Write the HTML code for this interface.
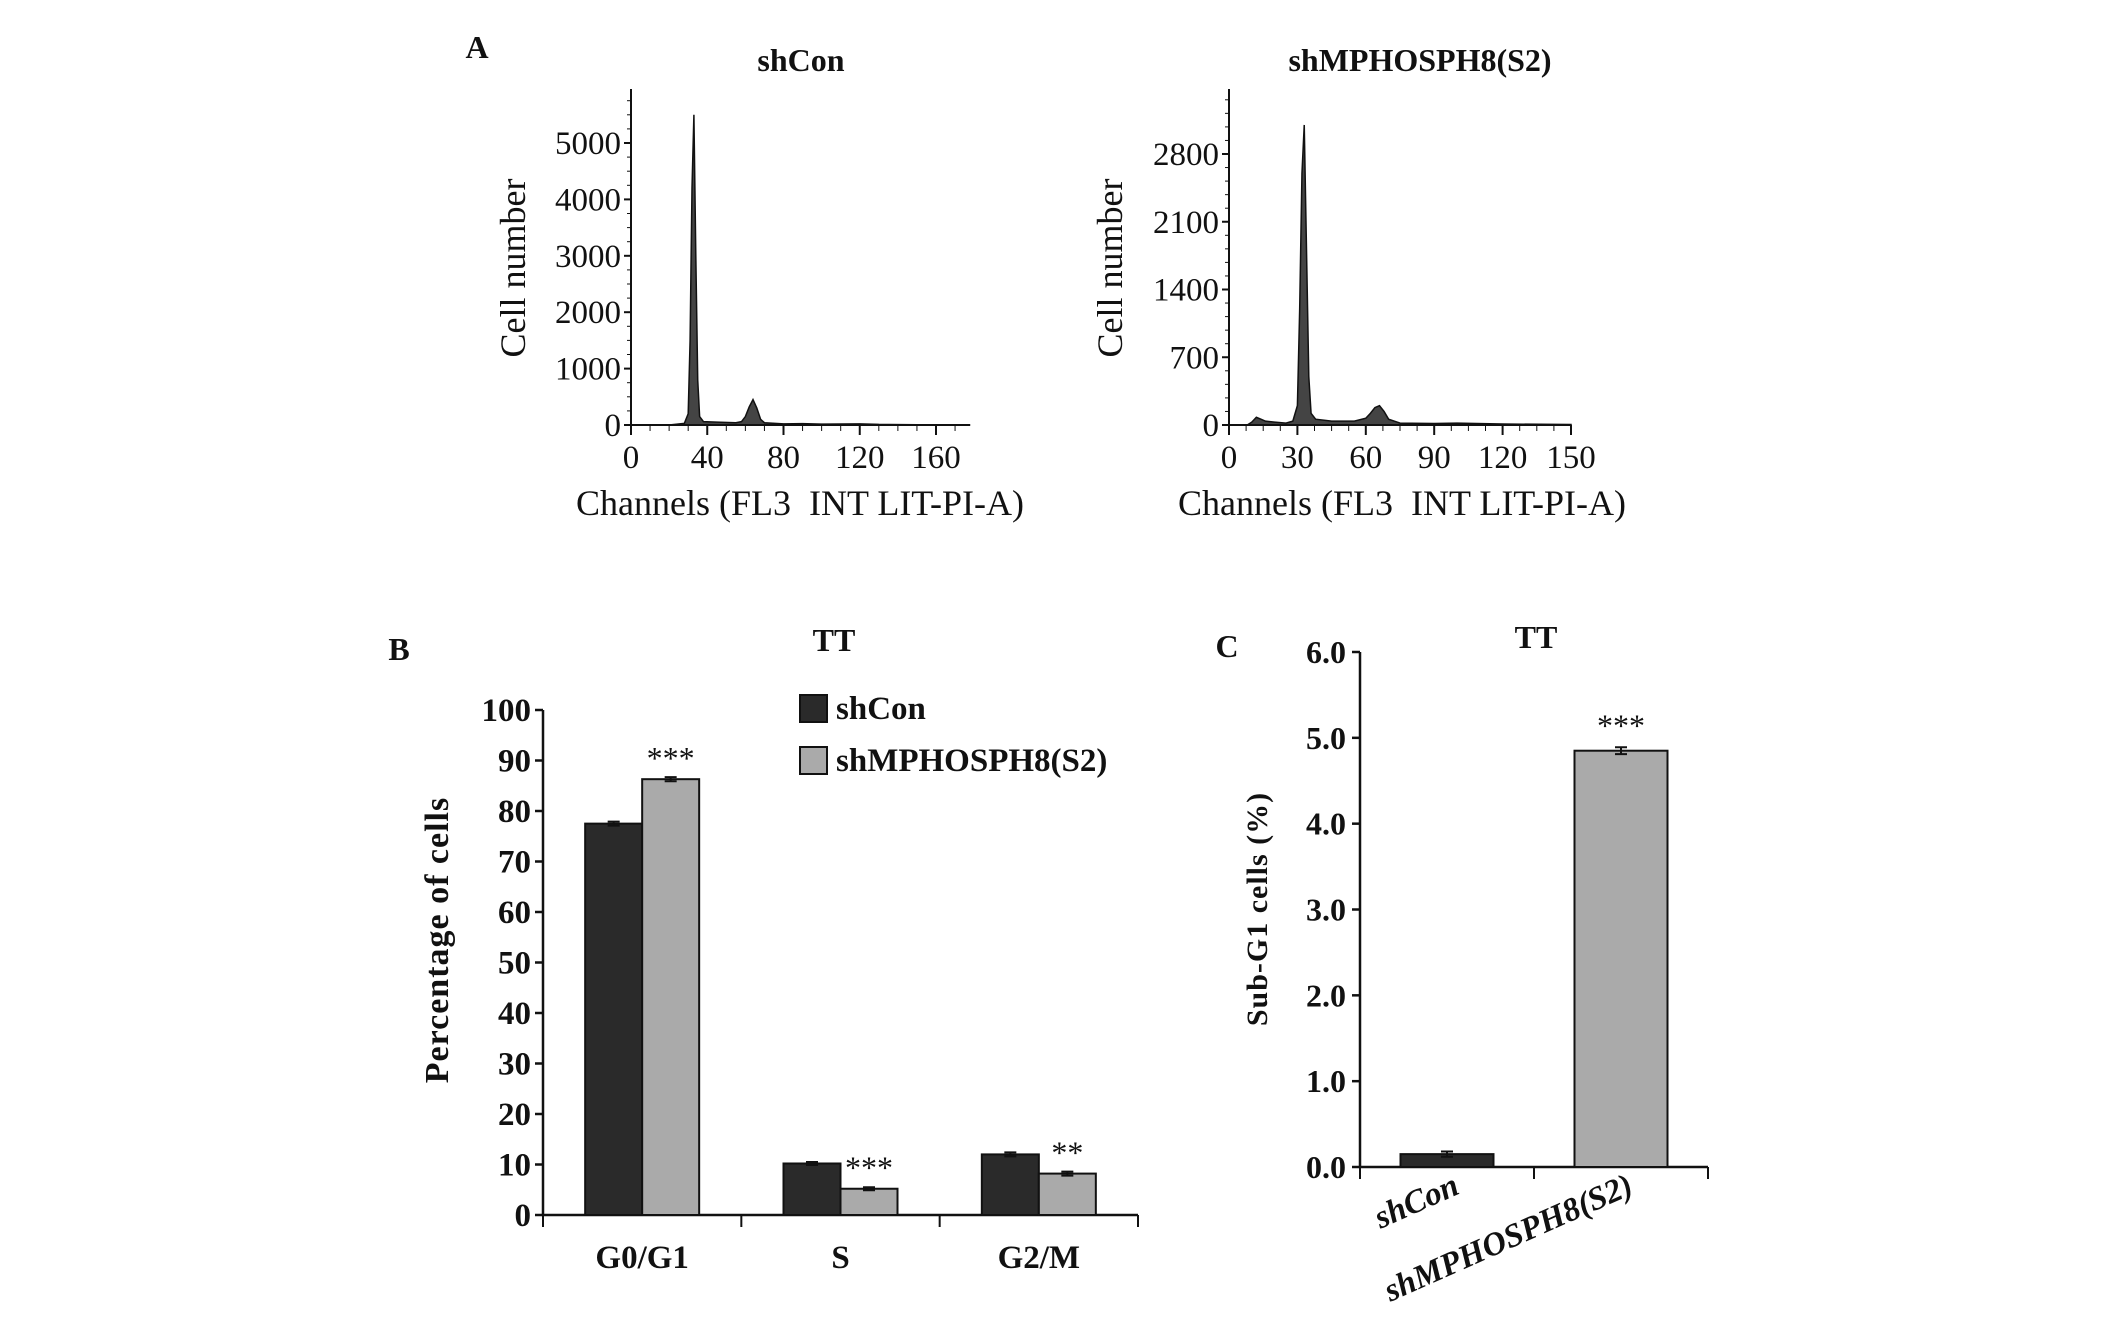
<!DOCTYPE html>
<html><head><meta charset="utf-8"><style>
body{margin:0;background:#fff}
svg{display:block}
text{font-family:"Liberation Serif",serif;fill:#111}
.b{font-weight:bold}
</style></head><body>
<svg id="fig" width="2126" height="1332" viewBox="0 0 2126 1332">
<g id="g"></g>
</svg>
<script>
// ---- Panel A data ----
const histLeftX = [0,20,28,30,31,32,33,34,35,36,38,45,55,58,60,62,64,66,68,70,80,90,100,120,130,150,178];
const histLeftY = [0,0,30,200,1500,4200,5500,3000,800,150,60,50,40,60,150,320,450,300,100,40,20,25,15,20,10,5,0];
const histRightX = [0,8,10,12,14,16,20,25,28,30,31,32,33,34,35,36,38,45,55,60,62,64,66,68,70,75,90,100,120,150];
const histRightY = [0,0,30,80,60,40,30,20,40,200,1200,2600,3100,1800,500,120,60,40,40,70,120,180,200,140,60,20,15,20,10,5];
const leftYTicks = [0,1000,2000,3000,4000,5000];
const leftXTicks = [0,40,80,120,160];
const rightYTicks = [0,700,1400,2100,2800];
const rightXTicks = [0,30,60,90,120,150];
// ---- Panel B data ----
const phases = ["G0/G1","S","G2/M"];
const shConVals = [77.5,10.2,12.0];
const shS2Vals = [86.3,5.2,8.2];
const shConErr = [0.4,0.3,0.4];
const shS2Err = [0.4,0.3,0.4];
const sigB = ["***","***","**"];
const bTicks = [0,10,20,30,40,50,60,70,80,90,100];
// ---- Panel C data ----
const cCats = ["shCon","shMPHOSPH8(S2)"];
const cVals = [0.15,4.85];
const cErr = [0.03,0.04];
const cTicks = [0.0,1.0,2.0,3.0,4.0,5.0,6.0];

const NS="http://www.w3.org/2000/svg";
const G=document.getElementById('g');
function el(tag,attrs,parent){const e=document.createElementNS(NS,tag);for(const k in attrs)e.setAttribute(k,attrs[k]);(parent||G).appendChild(e);return e;}
function txt(s,x,y,attrs){const e=el('text',Object.assign({x:x,y:y},attrs||{}));e.textContent=s;return e;}

function hist(cfg){
  const {x0,x1,y0,yTop,xMax,yMax,xs,ys,xt,yt,minor,name}=cfg;
  const sx=v=>x0+(v/xMax)*(x1-x0);
  const sy=v=>y0-(v/yMax)*(y0-yTop);
  let d=`M${sx(xs[0])},${y0}`;
  xs.forEach((v,i)=>{d+=` L${sx(v)},${sy(ys[i])}`});
  d+=` L${sx(xs[xs.length-1])},${y0} Z`;
  const p=el('path',{d:d,fill:'#444',stroke:'#111','stroke-width':1.5});
  
  
  const ax=el('path',{d:`M${x0},${cfg.axTop} L${x0},${y0} L${cfg.axEnd},${y0}`,stroke:'#111','stroke-width':2,fill:'none'});
  
  
  yt.forEach(v=>{
    el('line',{x1:x0-7,x2:x0,y1:sy(v),y2:sy(v),stroke:'#111','stroke-width':2});
    const t=txt(String(v),x0-10,sy(v)+11,{'text-anchor':'end','font-size':33});
    
    
  });
  for(let v=0; sy(v)>=cfg.axTop; v+=minor){el('line',{x1:x0-4,x2:x0,y1:sy(v),y2:sy(v),stroke:'#111','stroke-width':1});}
  for(let v=0; sx(v)<=cfg.axEnd; v+=xt[1]/4){el('line',{x1:sx(v),x2:sx(v),y1:y0,y2:y0+6,stroke:'#111','stroke-width':1});}
  xt.forEach(v=>{
    el('line',{x1:sx(v),x2:sx(v),y1:y0,y2:y0+10,stroke:'#111','stroke-width':2});
    const t=txt(String(v),sx(v),y0+43,{'text-anchor':'middle','font-size':33});
    
    
  });
}
hist({name:'shcon',x0:631,x1:936,xMax:160,y0:425,yTop:143,yMax:5000,xs:histLeftX,ys:histLeftY,xt:leftXTicks,yt:leftYTicks,minor:250,axTop:89,axEnd:970});
hist({name:'shmphosph8',x0:1229,x1:1571,xMax:150,y0:425,yTop:154,yMax:2800,xs:histRightX,ys:histRightY,xt:rightXTicks,yt:rightYTicks,minor:140,axTop:89,axEnd:1571});

function lab(s,x,y,attrs,name){const t=txt(s,x,y,attrs);return t;}
lab('A',477,58,{'font-size':32,'class':'b','text-anchor':'middle'},'panel-a-label');
lab('shCon',801,71,{'font-size':32,'class':'b','text-anchor':'middle'},'shcon-hist-title');
lab('shMPHOSPH8(S2)',1420,71,{'font-size':32,'class':'b','text-anchor':'middle'},'shmphosph8-hist-title');
lab('Cell number',0,0,{'font-size':36,'text-anchor':'middle',transform:'translate(525,268) rotate(-90)'},'shcon-y-axis-title');
lab('Cell number',0,0,{'font-size':36,'text-anchor':'middle',transform:'translate(1122,268) rotate(-90)'},'shmphosph8-y-axis-title');
lab('Channels (FL3  INT LIT-PI-A)',800,515,{'font-size':36,'text-anchor':'middle',style:'white-space:pre'},'shcon-x-axis-title');
lab('Channels (FL3  INT LIT-PI-A)',1402,515,{'font-size':36,'text-anchor':'middle',style:'white-space:pre'},'shmphosph8-x-axis-title');

// Panel B
(function(){
  const x0=543,xEnd=1138,y0=1215,yTop=710,bw=57;
  const sy=v=>y0-(v/100)*(y0-yTop);
  const gw=(xEnd-x0)/phases.length;
  el('path',{d:`M${x0},${yTop} L${x0},${y0} L${xEnd},${y0}`,stroke:'#111','stroke-width':2.5,fill:'none'});
  bTicks.forEach(v=>{
    el('line',{x1:x0-8,x2:x0,y1:sy(v),y2:sy(v),stroke:'#111','stroke-width':2.5});
    lab(String(v),x0-12,sy(v)+11,{'font-size':33,'class':'b','text-anchor':'end',textLength:String(v).length*16.5,lengthAdjust:'spacingAndGlyphs'},'b-y-tick-label');
  });
  for(let i=0;i<=phases.length;i++){el('line',{x1:x0+gw*i,x2:x0+gw*i,y1:y0,y2:y0+12,stroke:'#111','stroke-width':2});}
  phases.forEach((p,i)=>{
    const c=x0+gw*i+gw/2;
    [[shConVals,shConErr,'#2a2a2a','shcon'],[shS2Vals,shS2Err,'#aaaaaa','shmphosph8']].forEach((s,j)=>{
      const x=c-bw+j*bw, v=s[0][i];
      const r=el('rect',{x:x,y:sy(v),width:bw,height:y0-sy(v),fill:s[2],stroke:'#111','stroke-width':2});
      
      
      const e=s[1][i];
      el('path',{d:`M${x+bw/2},${sy(v+e)} L${x+bw/2},${sy(v-e)} M${x+bw/2-6},${sy(v+e)} L${x+bw/2+6},${sy(v+e)} M${x+bw/2-6},${sy(v-e)} L${x+bw/2+6},${sy(v-e)}`,stroke:'#111','stroke-width':2});
    });
    lab(sigB[i],c+bw/2,sy(shS2Vals[i])-10,{'font-size':32,'text-anchor':'middle'},'b-significance');
    lab(p,c,1268,{'font-size':33,'class':'b','text-anchor':'middle'},'b-x-tick-label');
  });
  lab('B',399,660,{'font-size':32,'class':'b','text-anchor':'middle'},'panel-b-label');
  lab('TT',834,651,{'font-size':32,'class':'b','text-anchor':'middle'},'b-chart-title');
  lab('Percentage of cells',0,0,{'font-size':34,'class':'b','text-anchor':'middle','letter-spacing':'1',transform:'translate(448,940) rotate(-90)'},'b-y-axis-title');
  const l1=el('rect',{x:800,y:695,width:27,height:27,fill:'#2a2a2a',stroke:'#111','stroke-width':2});
  
  lab('shCon',836,719,{'font-size':33,'class':'b'},'legend-shcon');
  const l2=el('rect',{x:800,y:747,width:27,height:27,fill:'#aaaaaa',stroke:'#111','stroke-width':2});
  
  lab('shMPHOSPH8(S2)',836,771,{'font-size':33,'class':'b'},'legend-shmphosph8');
})();

// Panel C
(function(){
  const x0=1360,xEnd=1708,y0=1167,yTop=652,bw=93;
  const sy=v=>y0-(v/6)*(y0-yTop);
  const gw=(xEnd-x0)/cCats.length;
  el('path',{d:`M${x0},${yTop} L${x0},${y0} L${xEnd},${y0}`,stroke:'#111','stroke-width':2.5,fill:'none'});
  cTicks.forEach(v=>{
    el('line',{x1:x0-8,x2:x0,y1:sy(v),y2:sy(v),stroke:'#111','stroke-width':2.5});
    lab(v.toFixed(1),x0-14,sy(v)+11,{'font-size':32,'class':'b','text-anchor':'end'},'c-y-tick-label');
  });
  for(let i=0;i<=cCats.length;i++){el('line',{x1:x0+gw*i,x2:x0+gw*i,y1:y0,y2:y0+12,stroke:'#111','stroke-width':2});}
  const fills=['#2a2a2a','#aaaaaa'];
  cCats.forEach((c,i)=>{
    const cx=x0+gw*i+gw/2, v=cVals[i], e=cErr[i];
    const r=el('rect',{x:cx-bw/2,y:sy(v),width:bw,height:y0-sy(v),fill:fills[i],stroke:'#111','stroke-width':2});
    
    
    el('path',{d:`M${cx},${sy(v+e)} L${cx},${sy(v-e)} M${cx-6},${sy(v+e)} L${cx+6},${sy(v+e)} M${cx-6},${sy(v-e)} L${cx+6},${sy(v-e)}`,stroke:'#111','stroke-width':2});
    lab(c,cx+14,y0+26,{'font-size':33,'class':'b','font-style':'italic','text-anchor':'end',transform:`rotate(-24 ${cx+14} ${y0+26})`},'c-x-tick-label');
  });
  lab('***',x0+gw*1.5,sy(cVals[1])-14,{'font-size':32,'text-anchor':'middle'},'c-significance');
  lab('C',1227,657,{'font-size':32,'class':'b','text-anchor':'middle'},'panel-c-label');
  lab('TT',1536,648,{'font-size':32,'class':'b','text-anchor':'middle'},'c-chart-title');
  lab('Sub-G1 cells (%)',0,0,{'font-size':30,'class':'b','text-anchor':'middle','letter-spacing':'1',transform:'translate(1267,909) rotate(-90)'},'c-y-axis-title');
})();
</script>
</body></html>
